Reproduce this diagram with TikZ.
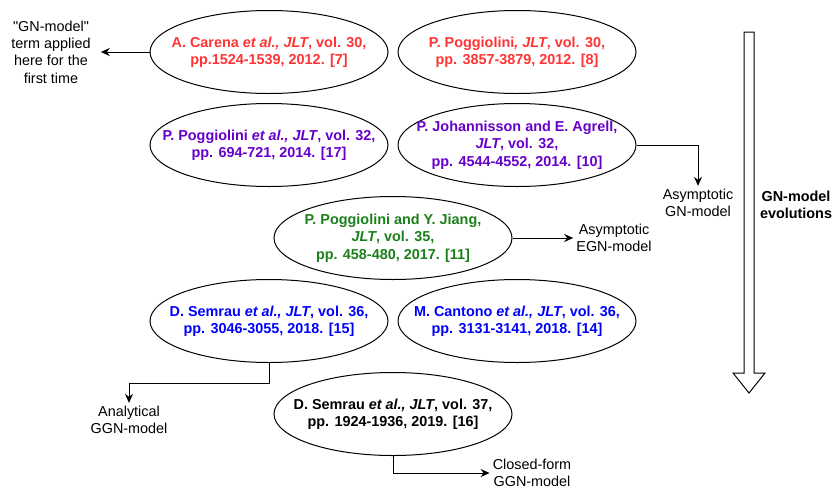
\documentclass[tikz,border=0pt]{standalone}
\usepackage{fontspec}
\setmainfont{Liberation Sans}
\usetikzlibrary{shapes.geometric}
\usetikzlibrary{arrows.meta}

\definecolor{paperred}{HTML}{FF3333}
\definecolor{paperpurple}{HTML}{6600CC}
\definecolor{papergreen}{HTML}{1A801A}
\definecolor{paperblue}{HTML}{0000FF}

\begin{document}
\begin{tikzpicture}[x=1pt, y=-1pt,
    every node/.style={font=\fontsize{14.4}{17.3}\selectfont, align=center},
    paper/.style={ellipse, draw, line width=1pt, minimum width=238pt, minimum height=83pt, inner xsep=-35pt, inner ysep=0pt, font=\fontsize{14.4}{17.3}\selectfont\bfseries},
    note/.style={inner sep=3pt},
    link/.style={line width=1pt, -{Stealth[length=9pt, width=8pt, inset=3pt]}}]

    \useasboundingbox (0,0) rectangle (832,490);

    % the big arrow on the right
    \draw[line width=1pt, fill=white]
        (744,32) -- (754,32) -- (754,373) -- (765,373) -- (749,393) -- (733,373) -- (744,373) -- cycle;
    \node[font=\fontsize{14.4}{17.3}\selectfont\bfseries] (evol) at (796,205) {GN-model\\evolutions};

    \node[paper, text=paperred] (carena) at (269,52) {A. Carena \textit{et al., JLT}, vol. 30,\\pp.1524-1539, 2012. [7]};
    \node[paper, text=paperred] (pogg12) at (517,52) {P. Poggiolini\textit{, JLT}, vol. 30,\\pp. 3857-3879, 2012. [8]};

    \node[paper, text=paperpurple] (pogg14) at (269,145) {P. Poggiolini \textit{et al., JLT}, vol. 32,\\pp. 694-721, 2014. [17]};
    \node[paper, text=paperpurple] (johan) at (517,145) {P. Johannisson and E. Agrell,\\\textit{JLT}, vol. 32,\\pp. 4544-4552, 2014. [10]};

    \node[paper, text=papergreen] (jiang) at (393,238) {P. Poggiolini and Y. Jiang,\\\textit{JLT}, vol. 35,\\pp. 458-480, 2017. [11]};

    \node[paper, text=paperblue] (semrau18) at (269,321) {D. Semrau \textit{et al., JLT}, vol. 36,\\pp. 3046-3055, 2018. [15]};
    \node[paper, text=paperblue] (cantono) at (517,321) {M. Cantono \textit{et al., JLT}, vol. 36,\\pp. 3131-3141, 2018. [14]};

    \node[paper] (semrau19) at (393,414) {D. Semrau \textit{et al., JLT}, vol. 37,\\pp. 1924-1936, 2019. [16]};

    \node[note, inner sep=10pt] (gnterm) at (51,52) {\textquotedbl GN-model\textquotedbl\\term applied\\here for the\\first time};
    \node[note] (asygn) at (698,203) {Asymptotic\\GN-model};
    \node[note] (asyegn) at (614,238) {Asymptotic\\EGN-model};
    \node[note] (anaggn) at (129,420) {Analytical\\GGN-model};
    \node[note] (cfggn) at (532,473) {Closed-form\\GGN-model};

    \coordinate (bend18) at (269,383);
    \coordinate (bend19) at (393,473);

    \draw[link] (carena.west) -- (gnterm.east);
    \draw[link] (johan.east) -| (asygn.north);
    \draw[link] (jiang.east) -- (asyegn.west);
    \draw[link] (semrau18.south) -- (bend18) -| (anaggn.north);
    \draw[link] (semrau19.south) -- (bend19) -- (cfggn.west);

\end{tikzpicture}
\end{document}
